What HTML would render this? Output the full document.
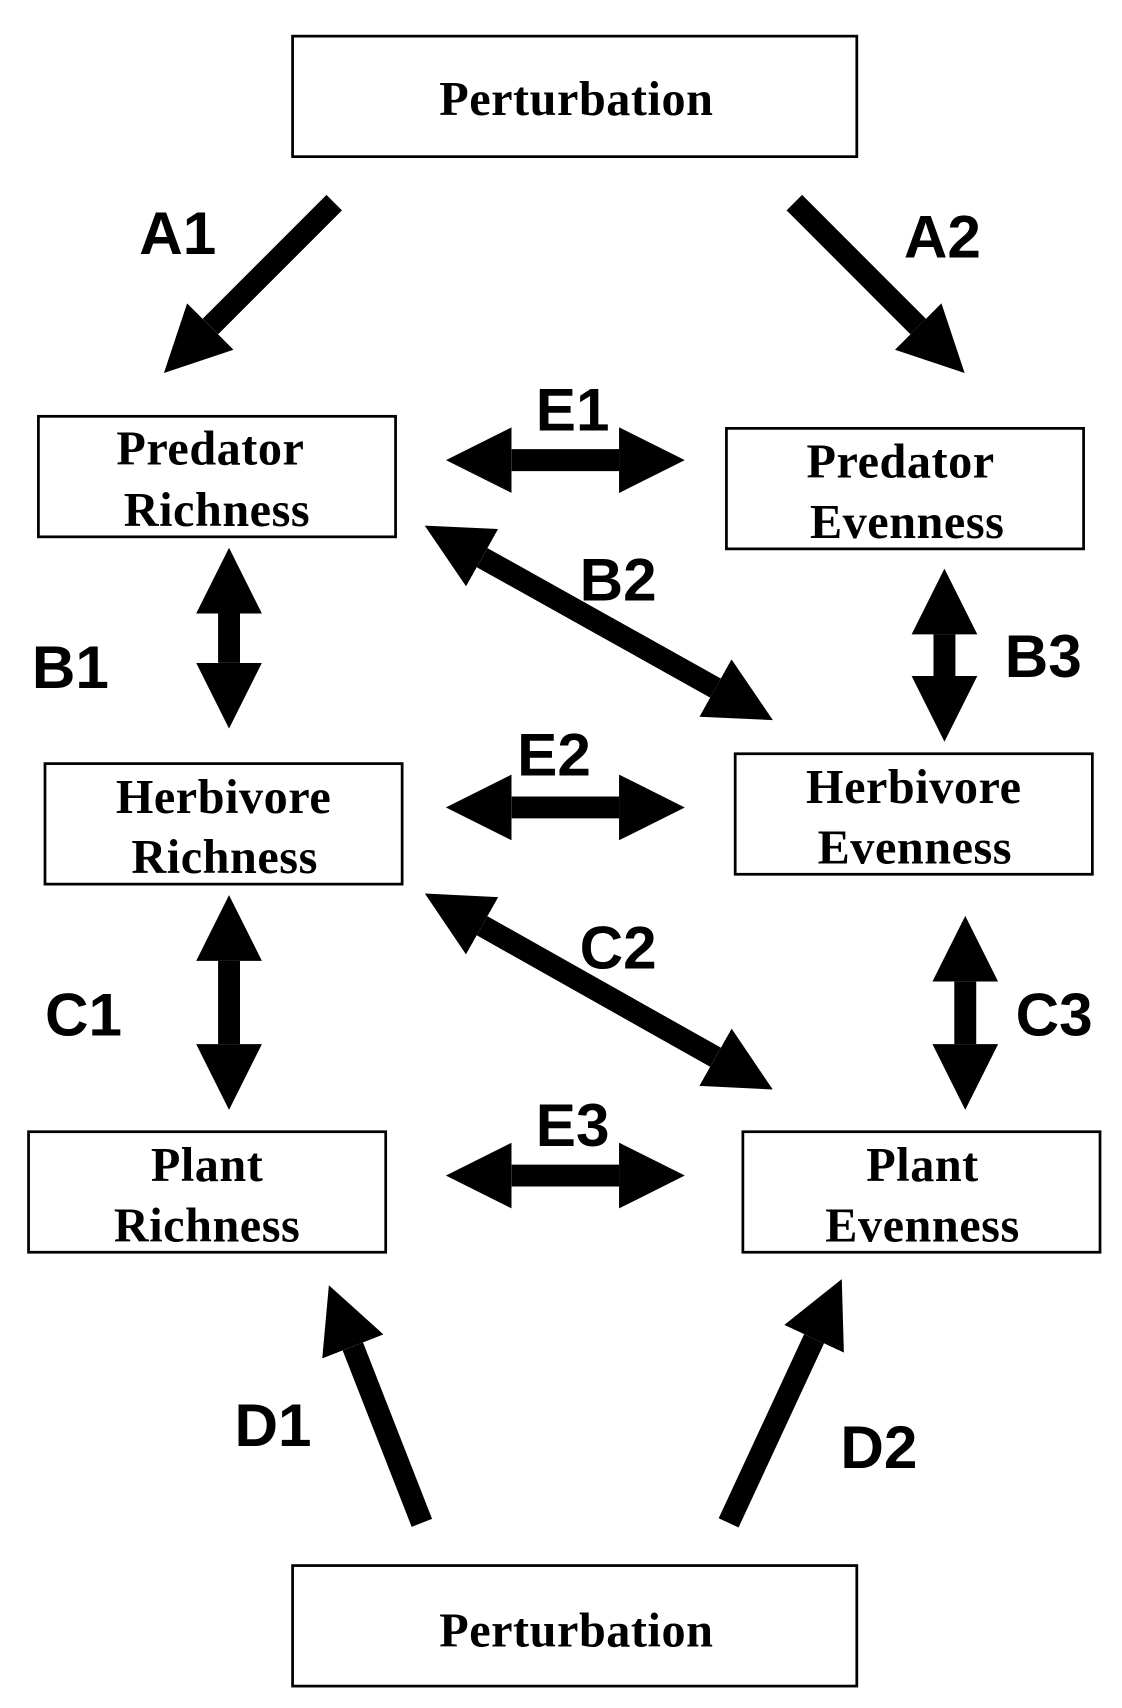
<!DOCTYPE html>
<html><head><meta charset="utf-8"><style>
html,body{margin:0;padding:0;background:#fff;}
svg{display:block;}
.n{font-family:"Liberation Serif",serif;font-weight:bold;font-size:44px;text-anchor:middle;letter-spacing:0.5px;}
.l{font-family:"Liberation Sans",sans-serif;font-weight:bold;font-size:55px;}
rect{fill:#fff;stroke:#000;stroke-width:2.5;}
line{stroke:#000;stroke-width:20;}
</style></head><body>
<svg width="1122" height="1708" viewBox="0 0 1024 1559" xmlns="http://www.w3.org/2000/svg">
<defs>
<marker id="h" markerWidth="3" markerHeight="3" refX="0" refY="1.5" orient="auto-start-reverse" markerUnits="strokeWidth">
<path d="M0,0 L3,1.5 L0,3 Z" fill="#000"/>
</marker>
</defs>
<rect x="267" y="33" width="515" height="110"/>
<text class="n" x="526" y="105">Perturbation</text>
<rect x="35" y="380" width="326" height="110"/>
<text class="n" x="192" y="424">Predator</text><text class="n" x="198" y="480">Richness</text>
<rect x="663" y="391" width="326" height="110"/>
<text class="n" x="822" y="436">Predator</text><text class="n" x="828" y="491">Evenness</text>
<rect x="41" y="697" width="326" height="110"/>
<text class="n" x="204" y="742">Herbivore</text><text class="n" x="205" y="797">Richness</text>
<rect x="671" y="688" width="326" height="110"/>
<text class="n" x="834" y="733">Herbivore</text><text class="n" x="835" y="788">Evenness</text>
<rect x="26" y="1033" width="326" height="110"/>
<text class="n" x="189" y="1078">Plant</text><text class="n" x="189" y="1133">Richness</text>
<rect x="678" y="1033" width="326" height="110"/>
<text class="n" x="842" y="1078">Plant</text><text class="n" x="842" y="1133">Evenness</text>
<rect x="267" y="1429" width="515" height="110"/>
<text class="n" x="526" y="1503">Perturbation</text>

<line x1="305" y1="185" x2="192" y2="298" marker-end="url(#h)"/>
<line x1="725" y1="185" x2="838" y2="298" marker-end="url(#h)"/>
<line x1="467" y1="420" x2="565" y2="420" marker-start="url(#h)" marker-end="url(#h)"/>
<line x1="467" y1="737" x2="565" y2="737" marker-start="url(#h)" marker-end="url(#h)"/>
<line x1="467" y1="1073" x2="565" y2="1073" marker-start="url(#h)" marker-end="url(#h)"/>
<line x1="209" y1="560" x2="209" y2="605" marker-start="url(#h)" marker-end="url(#h)"/>
<line x1="862" y1="579" x2="862" y2="617" marker-start="url(#h)" marker-end="url(#h)"/>
<line x1="209" y1="877" x2="209" y2="953" marker-start="url(#h)" marker-end="url(#h)"/>
<line x1="881" y1="896" x2="881" y2="953" marker-start="url(#h)" marker-end="url(#h)"/>
<line x1="440" y1="509" x2="653" y2="628" marker-start="url(#h)" marker-end="url(#h)"/>
<line x1="440" y1="845" x2="653" y2="965" marker-start="url(#h)" marker-end="url(#h)"/>
<line x1="385" y1="1390" x2="322" y2="1229" marker-end="url(#h)"/>
<line x1="665" y1="1390" x2="743" y2="1222" marker-end="url(#h)"/>

<text class="l" x="127" y="232">A1</text>
<text class="l" x="825" y="235">A2</text>
<text class="l" x="489" y="393">E1</text>
<text class="l" x="529" y="548">B2</text>
<text class="l" x="29" y="628">B1</text>
<text class="l" x="917" y="618">B3</text>
<text class="l" x="472" y="708">E2</text>
<text class="l" x="529" y="884">C2</text>
<text class="l" x="41" y="945">C1</text>
<text class="l" x="927" y="945">C3</text>
<text class="l" x="489" y="1046">E3</text>
<text class="l" x="214" y="1320">D1</text>
<text class="l" x="767" y="1340">D2</text>
</svg>
</body></html>
